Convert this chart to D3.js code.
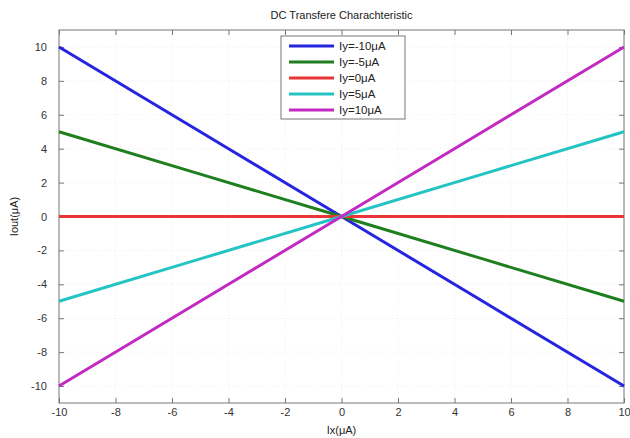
<html>
<head><meta charset="utf-8"></head>
<script src="https://d3js.org/d3.v7.min.js"></script>
<body style="margin:0;background:#fff">
<svg></svg>
<script>
    const width = 630;
    const height = 438;

    // data
    const ix = [-10, -5, 0, 5, 10];
    const seriesNames = ["Iy=-10\u03bcA", "Iy=-5\u03bcA", "Iy=0\u03bcA", "Iy=5\u03bcA", "Iy=10\u03bcA"];
    const ioutM10 = [10, 5, 0, -5, -10];
    const ioutM5 = [5, 2.5, 0, -2.5, -5];
    const iout0 = [0, 0, 0, 0, 0];
    const iout5 = [-5, -2.5, 0, 2.5, 5];
    const iout10 = [-10, -5, 0, 5, 10];
    const colors = ["#2525e0", "#1f7f1f", "#e83535", "#25c4c4", "#c22ac2"];
    const xTicks = [-10, -8, -6, -4, -2, 0, 2, 4, 6, 8, 10];
    const yTicks = [-10, -8, -6, -4, -2, 0, 2, 4, 6, 8, 10];

    const allSeries = [ioutM10, ioutM5, iout0, iout5, iout10];

    const margin = {left: 59, right: 6, top: 30, bottom: 35};
    const svg = d3.select('svg').attr('width', width).attr('height', height)
        .style('font-family', 'Liberation Sans, Arial, sans-serif');

    const x = d3.scaleLinear().domain([-10, 10]).range([margin.left, width - margin.right]);
    const y = d3.scaleLinear().domain([-11, 11]).range([height - margin.bottom, margin.top]);

    // faint grid
    svg.append('g').selectAll('line.gx').data(xTicks).enter().append('line')
        .attr('x1', d => x(d)).attr('x2', d => x(d))
        .attr('y1', y(-11)).attr('y2', y(11))
        .style('stroke', '#eeeeee').style('stroke-dasharray', '1,2');
    svg.append('g').selectAll('line.gy').data(yTicks).enter().append('line')
        .attr('x1', x(-10)).attr('x2', x(10))
        .attr('y1', d => y(d)).attr('y2', d => y(d))
        .style('stroke', '#eeeeee').style('stroke-dasharray', '1,2');

    // frame
    svg.append('rect')
        .attr('x', x(-10)).attr('y', y(11))
        .attr('width', x(10) - x(-10)).attr('height', y(-11) - y(11))
        .style('fill', 'none').style('stroke', '#777').style('stroke-width', 1);

    const fmt = d => String(d);
    const xAxis = svg.append('g').attr('transform', `translate(0,${y(-11)})`)
        .call(d3.axisBottom(x).tickValues(xTicks).tickSize(-5).tickPadding(5).tickFormat(fmt));
    const xAxisTop = svg.append('g').attr('transform', `translate(0,${y(11)})`)
        .call(d3.axisTop(x).tickValues(xTicks).tickSize(-5).tickFormat(''));
    const yAxis = svg.append('g').attr('transform', `translate(${x(-10)},0)`)
        .call(d3.axisLeft(y).tickValues(yTicks).tickSize(-5).tickPadding(12).tickFormat(fmt));
    const yAxisRight = svg.append('g').attr('transform', `translate(${x(10)},0)`)
        .call(d3.axisRight(y).tickValues(yTicks).tickSize(-5).tickFormat(''));

    [xAxis, xAxisTop, yAxis, yAxisRight].forEach(a => {
        a.select('.domain').remove();
        a.selectAll('line').style('stroke', '#777');
        a.selectAll('text').style('font-size', '11px').style('fill', '#333').style('font-family', 'Liberation Sans, Arial, sans-serif');
    });

    const line = d3.line().x((d, i) => x(ix[i])).y(d => y(d));
    svg.append('g').selectAll('path.series').data(allSeries).enter().append('path')
        .attr('class', 'series')
        .attr('d', line)
        .style('fill', 'none')
        .style('stroke', (d, i) => colors[i])
        .style('stroke-width', 3);

    // title and labels
    svg.append('text').attr('x', x(0)).attr('y', 19).attr('text-anchor', 'middle')
        .style('font-size', '11px').style('fill', '#222').text('DC Transfere Charachteristic');
    svg.append('text').attr('x', x(0)).attr('y', 434).attr('text-anchor', 'middle')
        .style('font-size', '11px').style('fill', '#222').text('Ix(\u03bcA)');
    svg.append('text').attr('transform', `translate(18,${y(0)}) rotate(-90)`).attr('text-anchor', 'middle')
        .style('font-size', '11px').style('fill', '#222').text('Iout(\u03bcA)');

    // legend
    const legend = svg.append('g').attr('transform', 'translate(281,36)');
    legend.append('rect').attr('width', 124).attr('height', 83)
        .style('fill', '#fff').style('stroke', '#777');
    const items = legend.selectAll('g.item').data(seriesNames).enter().append('g')
        .attr('transform', (d, i) => `translate(0,${10 + i * 16})`);
    items.append('line').attr('x1', 8).attr('x2', 53).attr('y1', 0).attr('y2', 0)
        .style('stroke', (d, i) => colors[i]).style('stroke-width', 3);
    items.append('text').attr('x', 58).attr('y', 4)
        .style('font-size', '11.5px').style('fill', '#222').text(d => d);
</script>
</body>
</html>
